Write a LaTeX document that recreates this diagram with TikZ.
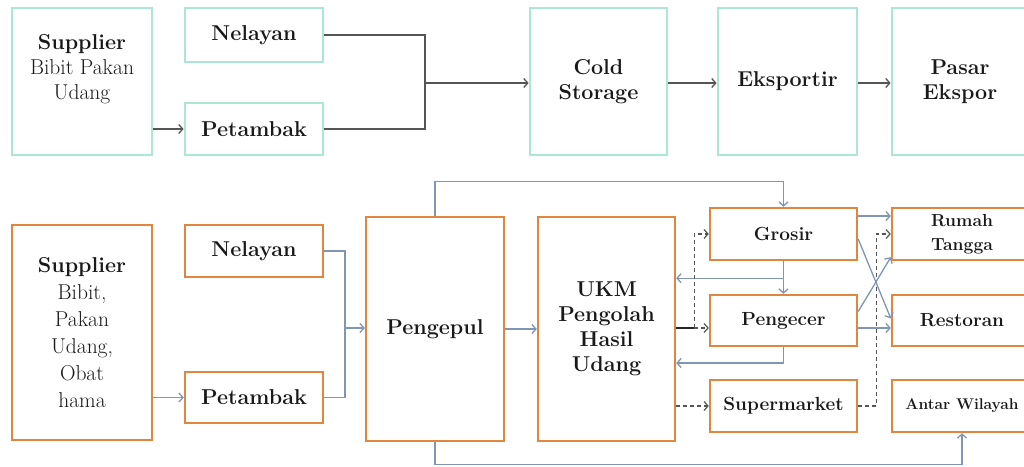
\documentclass[tikz,border=0pt]{standalone}
\usepackage{fontspec}
\usetikzlibrary{arrows.meta,calc}
\definecolor{mint}{RGB}{172,230,214}
\definecolor{orng}{RGB}{224,134,62}
\definecolor{bline}{RGB}{128,150,182}
\definecolor{gline}{RGB}{85,85,85}
\definecolor{txt}{RGB}{25,25,25}
\tikzset{
  topbox/.style={draw=mint,line width=2.8pt,fill=white,inner sep=0pt,text=txt,align=center,font=\bfseries\fontsize{21.5}{25}\selectfont},
  botbox/.style={draw=orng,line width=2.4pt,fill=white,inner sep=0pt,text=txt,align=center,font=\bfseries\fontsize{21.5}{25}\selectfont},
  rbox/.style={botbox,font=\bfseries\fontsize{19}{25}\selectfont},
  tarrow/.style={draw=gline,line width=1.3pt,-{Straight Barb[length=4pt,width=9pt]}},
  tline/.style={draw=gline,line width=1.3pt},
  barrow/.style={draw=bline,line width=1.3pt,-{Straight Barb[length=4pt,width=9pt]}},
  bline/.style={draw=bline,line width=1.3pt},
  darrow/.style={draw=gline,line width=1.2pt,dash pattern=on 4pt off 3pt,-{Straight Barb[length=4pt,width=9pt]}},
}
\begin{document}
\begin{tikzpicture}[x=1pt,y=-1pt]
\useasboundingbox (0,0) rectangle (1024,466);
\fill[white] (0,0) rectangle (1024,466);
% ---------- top row ----------
\node[topbox,minimum width=140,minimum height=147] (supA) at (82,81.5) {};
\node[text=txt,align=center,font=\fontsize{21.5}{25}\selectfont] (supAt) at (82,69) {\textbf{Supplier}\\Bibit Pakan\\Udang};
\node[topbox,minimum width=138,minimum height=54] (nel1) at (254,35) {Nelayan};
\node[topbox,minimum width=138,minimum height=52] (pet1) at (254,129) {Petambak};
\node[topbox,minimum width=137,minimum height=147] (cold) at (598.5,81.5) {Cold\\Storage};
\node[topbox,minimum width=139,minimum height=147] (eks) at (787.5,81.5) {Eksportir};
\node[topbox,minimum width=136,minimum height=147] (pasar) at (960,81.5) {Pasar\\Ekspor};
\coordinate (j1) at (425,83);
\draw[tline] (nel1.east) -| (j1);
\draw[tline] (pet1.east) -| (j1);
\draw[tarrow] (j1) -- (cold.west|-j1);
\draw[tarrow] (supA.east|-pet1.east) -- (pet1.west);
\draw[tarrow] (cold.east|-j1) -- (eks.west|-j1);
\draw[tarrow] (eks.east|-j1) -- (pasar.west|-j1);
% ---------- bottom row ----------
\node[botbox,minimum width=140,minimum height=215,font=\fontsize{21.5}{27}\selectfont] (supB) at (82,332.5) {\textbf{Supplier}\\Bibit,\\Pakan\\Udang,\\Obat\\hama};
\node[botbox,minimum width=138,minimum height=52] (nel2) at (254,251) {Nelayan};
\node[botbox,minimum width=138,minimum height=51] (pet2) at (254,397.5) {Petambak};
\node[botbox,minimum width=138,minimum height=224] (peng) at (435,329) {Pengepul};
\node[botbox,minimum width=137,minimum height=224] (ukm) at (606.5,329) {UKM\\Pengolah\\Hasil\\Udang};
\node[rbox,minimum width=147,minimum height=52] (gro) at (783.5,234) {Grosir};
\node[rbox,minimum width=147,minimum height=51] (pec) at (783.5,320.5) {Pengecer};
\node[rbox,minimum width=147,minimum height=52] (sup) at (783.5,406) {Supermarket};
\node[rbox,minimum width=140,minimum height=52,font=\bfseries\fontsize{17.5}{24}\selectfont] (rum) at (962,234) {Rumah\\Tangga};
\node[rbox,minimum width=140,minimum height=51] (res) at (962,320.5) {Restoran};
\node[rbox,minimum width=140,minimum height=52,font=\bfseries\fontsize{15.5}{18}\selectfont] (ant) at (962,406) {Antar Wilayah};
% connectors
\coordinate (j2) at (345,328);
\draw[bline] (nel2.east) -| (j2);
\draw[bline] (pet2.east) -| (j2);
\draw[barrow] (j2) -- (peng.west|-j2);
\draw[barrow] (supB.east|-pet2.east) -- (pet2.west);
\draw[barrow] (peng.east) -- (ukm.west);
\draw[barrow] (peng.north) -- ++(0,-34) -| (gro.north);
\draw[barrow] (peng.south) -- ++(0,22) -| (ant.south);
\draw[barrow] (gro.south) -- (pec.north);
\coordinate (b1) at ($(gro.south)+(0,17)$);
\draw[barrow] (b1) -- (ukm.east|-b1);
\draw[barrow] (pec.south) |- ($(ukm.east)+(0,34)$);
\coordinate (d1) at ($(ukm.east)+(18,-1)$);
\draw[line width=1.2pt,black!85] (ukm.east|-d1) -- (d1);
\draw[darrow] (d1) -- (pec.west|-d1);
\draw[darrow] (d1) |- (gro.west);
\draw[darrow] (ukm.east|-sup.west) -- (sup.west);
\draw[darrow] (sup.east) -- ++(18,0) |- (rum.west);
\coordinate (g1) at ($(gro.east)+(0,-18)$);
\draw[barrow] (g1) -- (rum.west|-g1);
\draw[barrow] ($(gro.east)+(0,5)$) -- ($(res.west)+(0,-2)$);
\draw[barrow] ($(pec.east)+(0,-9)$) -- ($(rum.south west)+(0,-4)$);
\coordinate (p1) at ($(pec.east)+(0,7.5)$);
\draw[barrow] (p1) -- (res.west|-p1);
\end{tikzpicture}
\end{document}
